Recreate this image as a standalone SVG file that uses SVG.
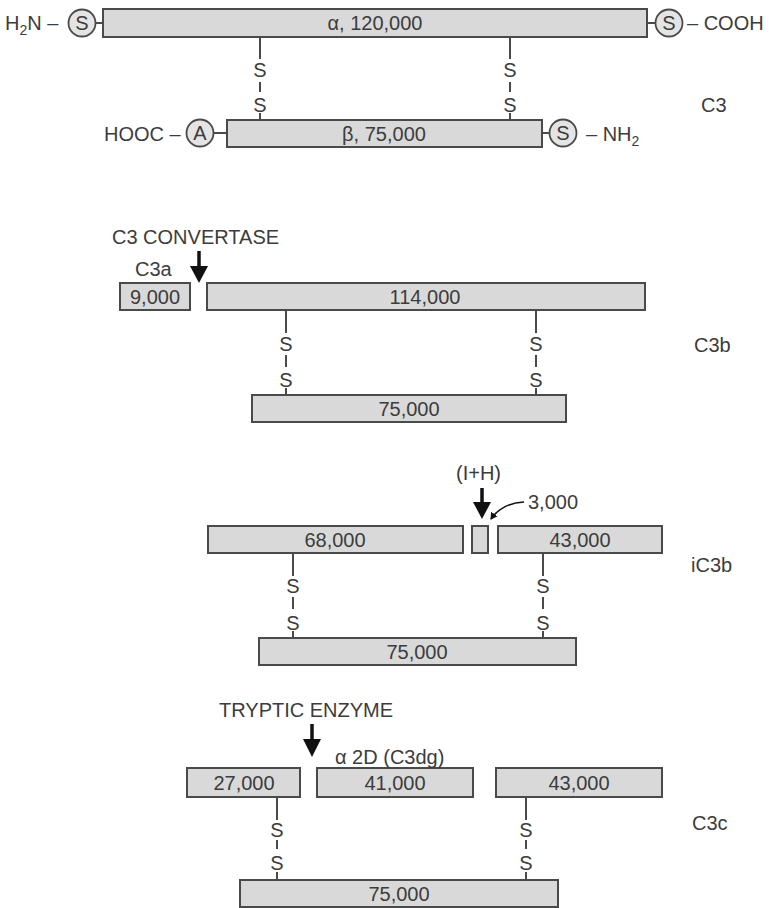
<svg xmlns="http://www.w3.org/2000/svg" width="769" height="908" viewBox="0 0 769 908">
<defs>
<style>
text{font-family:"Liberation Sans",Arial,sans-serif;font-size:20px;fill:#3c3c3c}
.c{text-anchor:middle}
.bar{fill:#d9d9d9;stroke:#4a4a4a;stroke-width:2}
.circ{fill:#e4e4e4;stroke:#4a4a4a;stroke-width:1.8}
.ln{stroke:#4a4a4a;stroke-width:2;fill:none}
.arr{stroke:#111;stroke-width:3.5;fill:none}
.head{fill:#111}
</style>
<marker id="sm" markerWidth="8" markerHeight="8" refX="6" refY="4" orient="auto" markerUnits="userSpaceOnUse">
<path d="M0,0 L7,4 L0,8 Z" fill="#111"/>
</marker>
</defs>
<rect width="769" height="908" fill="#fff"/>

<!-- C3 -->
<g id="c3-alpha">
<rect class="bar" x="103" y="9" width="544" height="28"/>
<text class="c" x="375" y="30">α, 120,000</text>
</g>
<g id="c3-alpha-n">
<text x="5" y="30">H<tspan font-size="14" dy="5">2</tspan><tspan dy="-5">N –</tspan></text>
<circle class="circ" cx="82" cy="23" r="13.5"/>
<text class="c" x="82" y="30">S</text>
<line class="ln" x1="95.5" y1="23" x2="103" y2="23"/>
</g>
<g id="c3-alpha-c">
<line class="ln" x1="647" y1="23" x2="656" y2="23"/>
<circle class="circ" cx="669" cy="23" r="13.5"/>
<text class="c" x="669" y="30">S</text>
<text x="687" y="30">– COOH</text>
</g>
<g id="c3-beta">
<rect class="bar" x="227" y="120" width="315" height="27"/>
<text class="c" x="384" y="141">β, 75,000</text>
</g>
<g id="c3-beta-c">
<text x="104" y="141">HOOC –</text>
<circle class="circ" cx="200" cy="133" r="13.5"/>
<text class="c" x="200" y="140">A</text>
<line class="ln" x1="213.5" y1="133" x2="227" y2="133"/>
</g>
<g id="c3-beta-n">
<line class="ln" x1="542" y1="133" x2="549.5" y2="133"/>
<circle class="circ" cx="563" cy="133" r="13.5"/>
<text class="c" x="563" y="140">S</text>
<text x="586" y="141">– NH<tspan font-size="14" dy="5">2</tspan></text>
</g>
<g id="label-c3"><text x="701" y="112">C3</text></g>

<!-- C3b -->
<g id="c3b-c3a">
<text x="135" y="276">C3a</text>
<rect class="bar" x="120" y="283" width="70" height="27"/>
<text class="c" x="155" y="304">9,000</text>
</g>
<g id="c3b-alpha">
<rect class="bar" x="207" y="283" width="438" height="27"/>
<text class="c" x="425" y="304">114,000</text>
</g>
<g id="c3b-beta">
<rect class="bar" x="252" y="395" width="314" height="27"/>
<text class="c" x="409" y="416">75,000</text>
</g>
<g id="label-convertase"><text x="112" y="244">C3 CONVERTASE</text></g>
<g id="label-c3b"><text x="694" y="352">C3b</text></g>

<!-- iC3b -->
<g id="ic3b-68">
<rect class="bar" x="208" y="526" width="255" height="27"/>
<text class="c" x="335" y="547">68,000</text>
</g>
<g id="ic3b-3">
<rect class="bar" x="472" y="526" width="16" height="27"/>
</g>
<g id="ic3b-43">
<rect class="bar" x="498" y="526" width="164" height="27"/>
<text class="c" x="580" y="547">43,000</text>
</g>
<g id="ic3b-beta">
<rect class="bar" x="259" y="638" width="317" height="27"/>
<text class="c" x="417" y="659">75,000</text>
</g>
<g id="label-ih"><text x="456" y="480">(I+H)</text></g>
<g id="label-3000"><text x="528" y="509">3,000</text></g>
<g id="label-ic3b"><text x="691" y="572">iC3b</text></g>

<!-- C3c -->
<g id="c3c-27">
<rect class="bar" x="187" y="768" width="113" height="29"/>
<text class="c" x="244" y="790">27,000</text>
</g>
<g id="c3c-41">
<rect class="bar" x="317" y="768" width="156" height="29"/>
<text class="c" x="395" y="790">41,000</text>
</g>
<g id="c3c-43">
<rect class="bar" x="496" y="768" width="166" height="29"/>
<text class="c" x="579" y="790">43,000</text>
</g>
<g id="c3c-beta">
<rect class="bar" x="240" y="880" width="318" height="27"/>
<text class="c" x="399" y="901">75,000</text>
</g>
<g id="label-tryptic"><text x="219" y="717">TRYPTIC ENZYME</text></g>
<g id="label-c3dg"><text x="335" y="764">α 2D (C3dg)</text></g>
<g id="label-c3c"><text x="692" y="830">C3c</text></g>

<!-- connectors -->
<g id="connectors">
<g>
<line class="ln" x1="260" y1="37" x2="260" y2="59"/><text class="c" x="260" y="77">S</text>
<line class="ln" x1="260" y1="82" x2="260" y2="92"/><text class="c" x="260" y="112">S</text>
<line class="ln" x1="260" y1="113" x2="260" y2="120"/>
<line class="ln" x1="510" y1="37" x2="510" y2="59"/><text class="c" x="510" y="77">S</text>
<line class="ln" x1="510" y1="82" x2="510" y2="92"/><text class="c" x="510" y="112">S</text>
<line class="ln" x1="510" y1="113" x2="510" y2="120"/>
</g>
<g>
<line class="ln" x1="286" y1="310" x2="286" y2="333"/><text class="c" x="286" y="351">S</text>
<line class="ln" x1="286" y1="355" x2="286" y2="367"/><text class="c" x="286" y="387">S</text>
<line class="ln" x1="286" y1="388" x2="286" y2="395"/>
<line class="ln" x1="536" y1="310" x2="536" y2="333"/><text class="c" x="536" y="351">S</text>
<line class="ln" x1="536" y1="355" x2="536" y2="367"/><text class="c" x="536" y="387">S</text>
<line class="ln" x1="536" y1="388" x2="536" y2="395"/>
</g>
<g>
<line class="ln" x1="293" y1="553" x2="293" y2="576"/><text class="c" x="293" y="593">S</text>
<line class="ln" x1="293" y1="597" x2="293" y2="609"/><text class="c" x="293" y="630">S</text>
<line class="ln" x1="293" y1="631" x2="293" y2="638"/>
<line class="ln" x1="543" y1="553" x2="543" y2="576"/><text class="c" x="543" y="593">S</text>
<line class="ln" x1="543" y1="597" x2="543" y2="609"/><text class="c" x="543" y="630">S</text>
<line class="ln" x1="543" y1="631" x2="543" y2="638"/>
</g>
<g>
<line class="ln" x1="277" y1="797" x2="277" y2="820"/><text class="c" x="277" y="837">S</text>
<line class="ln" x1="277" y1="840" x2="277" y2="849"/><text class="c" x="277" y="870">S</text>
<line class="ln" x1="277" y1="872" x2="277" y2="880"/>
<line class="ln" x1="526" y1="797" x2="526" y2="820"/><text class="c" x="526" y="837">S</text>
<line class="ln" x1="526" y1="840" x2="526" y2="849"/><text class="c" x="526" y="870">S</text>
<line class="ln" x1="526" y1="872" x2="526" y2="880"/>
</g>
<line class="arr" x1="199" y1="251" x2="199" y2="268"/>
<path class="head" d="M190,266 L208,266 L199,283 Z"/>
<line class="arr" x1="482" y1="488" x2="482" y2="504"/>
<path class="head" d="M473,502 L491,502 L482,519 Z"/>
<line class="arr" x1="312" y1="724" x2="312" y2="741"/>
<path class="head" d="M303,739 L321,739 L312,757 Z"/>
<path d="M524,502 Q502,503 491,519" stroke="#111" stroke-width="1.6" fill="none" marker-end="url(#sm)"/>
</g>
</svg>
